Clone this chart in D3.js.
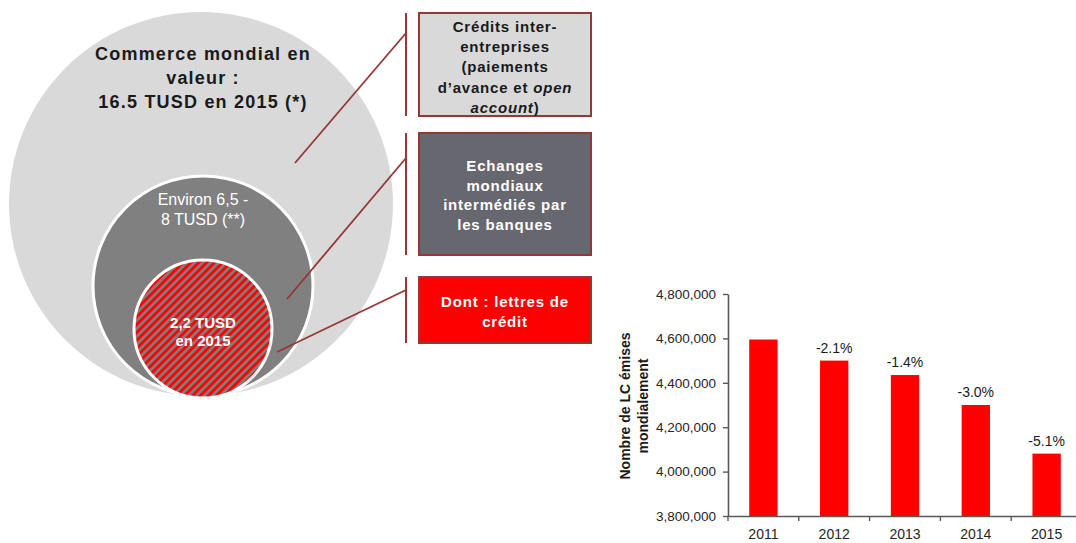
<!DOCTYPE html>
<html lang="fr">
<head>
<meta charset="UTF-8">
<title>Commerce mondial et lettres de crédit</title>
<script src="https://cdn.jsdelivr.net/npm/d3@7"></script>
<style>
    body { margin: 0; background: #fff; }
    svg { display: block; font-family: "Liberation Sans", Arial, sans-serif; }
</style>
</head>
<body>
<div id="chart"></div>
<script>
    // données du graphique à barres
    const years = ["2011", "2012", "2013", "2014", "2015"];
    const lcCount = [4595000, 4500000, 4435000, 4300000, 4081000];
    const growthLabels = ["", "-2.1%", "-1.4%", "-3.0%", "-5.1%"];
    const yTicks = [3800000, 4000000, 4200000, 4400000, 4600000, 4800000];
    const yTitle = ["Nombre de LC émises", "mondialement"];

    // textes des cercles et des encadrés
    const outerLabel = ["Commerce mondial en", "valeur :", "16.5 TUSD en 2015 (*)"];
    const middleLabel = ["Environ 6,5 -", "8 TUSD (**)"];
    const innerLabel = ["2,2 TUSD", "en 2015"];
    const boxLabels = [
        [["Crédits inter-"], ["entreprises"], ["(paiements"], ["d\u2019avance et ", "open"], ["", "account", ")"]],
        [["Echanges"], ["mondiaux"], ["intermédiés par"], ["les banques"]],
        [["Dont : lettres de"], ["crédit"]]
    ];

    const W = 1076, H = 543;
    const brown = "#953735";

    const svg = d3.select("#chart").append("svg")
        .attr("width", W)
        .attr("height", H);

    // motif hachuré rouge / gris
    const pat = svg.append("defs").append("pattern")
        .attr("id", "hatch")
        .attr("patternUnits", "userSpaceOnUse")
        .attr("width", 5.6)
        .attr("height", 5.6)
        .attr("patternTransform", "rotate(45)");
    pat.append("rect").attr("width", 5.6).attr("height", 5.6).attr("fill", "#7f7f7f");
    pat.append("rect").attr("width", 2.9).attr("height", 5.6).attr("fill", "#ff0000");

    /* ---------- cercles ---------- */
    const circ = svg.append("g");
    circ.append("circle").attr("cx", 201).attr("cy", 204).attr("r", 192).attr("fill", "#d9d9d9");
    circ.append("circle").attr("cx", 203).attr("cy", 286).attr("r", 110)
        .attr("fill", "#808080").attr("stroke", "#fff").attr("stroke-width", 3);
    circ.append("circle").attr("cx", 203).attr("cy", 329).attr("r", 69)
        .attr("fill", "url(#hatch)").attr("stroke", "#fff").attr("stroke-width", 3);

    function lines(g, arr, x, y0, dy, attrs) {
        const t = g.append("text")
            .attr("text-anchor", "middle")
            .attr("x", x);
        Object.entries(attrs).forEach(([k, v]) => t.attr(k, v));
        arr.forEach((s, i) => {
            t.append("tspan").attr("x", x).attr("y", y0 + i * dy).text(s);
        });
        return t;
    }

    lines(circ, outerLabel, 203, 60, 24, {
        "font-size": 18, "font-weight": "bold", "fill": "#1a1a1a", "letter-spacing": 1.2
    });
    lines(circ, middleLabel, 203, 205, 20, {
        "font-size": 16, "fill": "#fff"
    });
    lines(circ, innerLabel, 203, 328, 18, {
        "font-size": 15, "font-weight": "bold", "fill": "#fff"
    });

    /* ---------- encadrés ---------- */
    const boxes = [
        { y: 13, h: 103, fill: "#d9d9d9", color: "#1a1a1a", y0: 32, dy: 20.2, ax: 33, tx: 295, ty: 163 },
        { y: 133, h: 122, fill: "#67676f", color: "#fff", y0: 171, dy: 19.7, ax: 158, tx: 287, ty: 299 },
        { y: 277, h: 66, fill: "#ff0000", color: "#fff", y0: 307, dy: 20, ax: 290, tx: 277, ty: 352 }
    ];
    const bx = svg.append("g");
    boxes.forEach((b, i) => {
        bx.append("line")
            .attr("x1", 406).attr("x2", 406)
            .attr("y1", b.y).attr("y2", b.y + b.h)
            .attr("stroke", brown).attr("stroke-width", 2);
        bx.append("line")
            .attr("x1", 406).attr("y1", b.ax)
            .attr("x2", b.tx).attr("y2", b.ty)
            .attr("stroke", brown).attr("stroke-width", 1.8);
        bx.append("rect")
            .attr("x", 419).attr("y", b.y)
            .attr("width", 172).attr("height", b.h)
            .attr("fill", b.fill)
            .attr("stroke", brown).attr("stroke-width", 2);
        const t = bx.append("text")
            .attr("text-anchor", "middle")
            .attr("font-size", 15)
            .attr("font-weight", "bold")
            .attr("letter-spacing", 0.8)
            .attr("fill", b.color);
        boxLabels[i].forEach((parts, j) => {
            const ln = t.append("tspan").attr("x", 505).attr("y", b.y0 + j * b.dy);
            parts.forEach((p, k) => {
                if (!p) return;
                // les segments impairs sont en italique
                ln.append("tspan")
                    .attr("font-style", k % 2 === 1 ? "italic" : "normal")
                    .text(p);
            });
        });
    });

    /* ---------- graphique à barres ---------- */
    const x = d3.scaleBand()
        .domain(years)
        .range([728, 1082])
        .paddingInner(0.6)
        .paddingOuter(0.3);
    const y = d3.scaleLinear()
        .domain([3800000, 4800000])
        .range([516, 294]);

    const bar = svg.append("g");

    bar.selectAll(".bar")
        .data(years)
        .enter()
        .append("rect")
        .attr("class", "bar")
        .attr("x", d => x(d))
        .attr("width", x.bandwidth())
        .attr("y", (d, i) => y(lcCount[i]))
        .attr("height", (d, i) => y.range()[0] - y(lcCount[i]))
        .attr("fill", "#ff0000");

    bar.selectAll(".lbl")
        .data(years)
        .enter()
        .append("text")
        .attr("class", "lbl")
        .attr("x", d => x(d) + x.bandwidth() / 2)
        .attr("y", (d, i) => y(lcCount[i]) - 8)
        .attr("text-anchor", "middle")
        .attr("font-size", 14)
        .attr("fill", "#1a1a1a")
        .text((d, i) => growthLabels[i]);

    // axe y
    const yAxis = d3.axisLeft(y)
        .tickValues(yTicks)
        .tickFormat(d3.format(","))
        .tickSize(5)
        .tickPadding(7)
        .tickSizeOuter(0);
    const ya = bar.append("g")
        .attr("transform", "translate(728,0)")
        .call(yAxis);
    ya.select(".domain").attr("stroke", "#595959").attr("stroke-width", 1.6);
    ya.selectAll(".tick line").attr("stroke", "#595959").attr("stroke-width", 1.4);
    ya.selectAll(".tick text")
        .attr("font-size", 13.5)
        .attr("font-family", "Liberation Sans, Arial, sans-serif")
        .attr("fill", "#262626");

    // axe x
    const xAxis = d3.axisBottom(x)
        .tickSize(0)
        .tickPadding(13)
        .tickSizeOuter(0);
    const xa = bar.append("g")
        .attr("transform", "translate(0,516)")
        .call(xAxis);
    xa.select(".domain").attr("stroke", "#595959").attr("stroke-width", 1.6);
    xa.selectAll(".tick text")
        .attr("font-size", 14)
        .attr("font-family", "Liberation Sans, Arial, sans-serif")
        .attr("fill", "#262626");
    // graduations entre les catégories
    xa.selectAll(".sep")
        .data(d3.range(years.length))
        .enter()
        .append("line")
        .attr("class", "sep")
        .attr("x1", i => x.range()[0] + i * x.step())
        .attr("x2", i => x.range()[0] + i * x.step())
        .attr("y1", 0).attr("y2", 5)
        .attr("stroke", "#595959").attr("stroke-width", 1.4);

    // titre axe y
    const yt = bar.append("text")
        .attr("transform", "translate(630,406) rotate(-90)")
        .attr("text-anchor", "middle")
        .attr("font-size", 14)
        .attr("font-weight", "bold")
        .attr("fill", "#1a1a1a");
    yTitle.forEach((s, i) => {
        yt.append("tspan").attr("x", 0).attr("y", i * 18).text(s);
    });
</script>
</body>
</html>
